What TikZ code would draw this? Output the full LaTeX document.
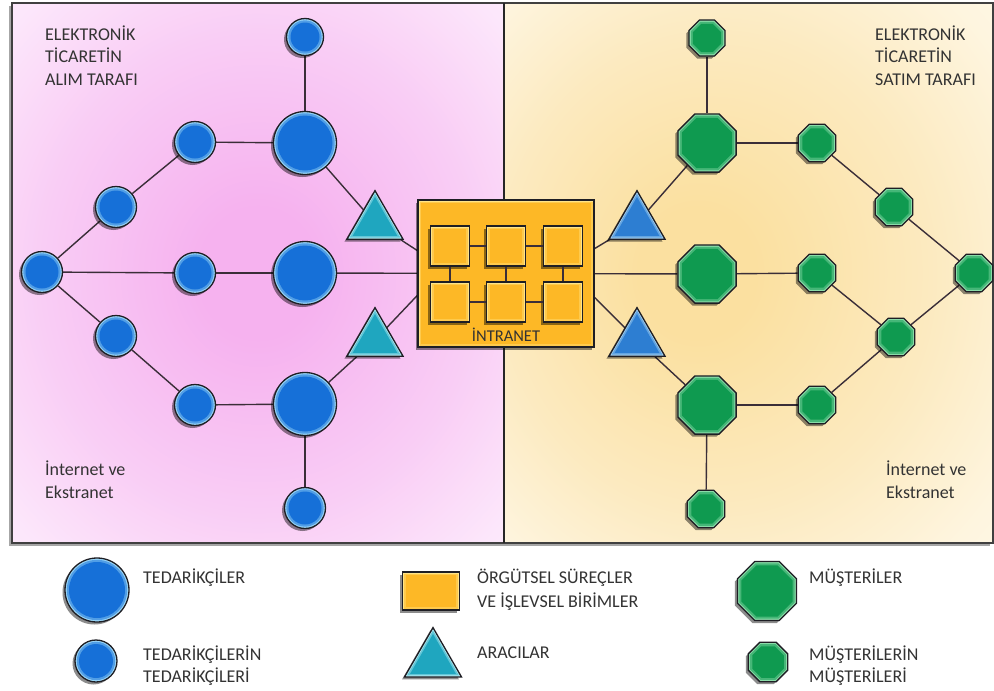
\documentclass[tikz,border=0pt]{standalone}
\usepackage{fontspec}
\setmainfont{Carlito}
\usetikzlibrary{shapes.geometric,shadows}

% palette
\definecolor{bmain}{HTML}{1670D8}
\definecolor{blight}{HTML}{9AD6F7}
\definecolor{tmain}{HTML}{1FA6BF}
\definecolor{tlight}{HTML}{B4ECF4}
\definecolor{rtmain}{HTML}{2D7ED2}
\definecolor{rtlight}{HTML}{A8D4F4}
\definecolor{gmain}{HTML}{0F9A50}
\definecolor{glight}{HTML}{8ADBA8}
\definecolor{ymain}{HTML}{FDB826}
\definecolor{ylight}{HTML}{FFE487}
\definecolor{outl}{HTML}{1E1E24}
\definecolor{linec}{HTML}{3A2E38}
\definecolor{txt}{HTML}{333333}
\definecolor{pinkC}{HTML}{F6B2EF}
\definecolor{pinkM}{HTML}{F9CDF5}
\definecolor{pinkE}{HTML}{FCE7FB}
\definecolor{pinkW}{HTML}{FEF7FE}
\definecolor{creamC}{HTML}{FBE0A0}
\definecolor{creamM}{HTML}{FCEAC0}
\definecolor{creamE}{HTML}{FEF5DF}
\definecolor{creamW}{HTML}{FFFCF4}

% panel backgrounds
\pgfdeclareradialshading{pinkbg}{\pgfpoint{0bp}{0bp}}{color(0bp)=(pinkC); color(6bp)=(pinkC); color(22bp)=(pinkM); color(34bp)=(pinkE); color(50bp)=(pinkW)}
\pgfdeclareradialshading{creambg}{\pgfpoint{-6bp}{0bp}}{color(0bp)=(creamC); color(6bp)=(creamC); color(22bp)=(creamM); color(34bp)=(creamE); color(50bp)=(creamW)}

\pgfdeclarelayer{back}
\pgfdeclarelayer{links}
\pgfsetlayers{back,links,main}

% inner fills used for the soft inner rim of the shapes
\newcommand\glowdisc[2]{%
  \pgfmathsetmacro\discR{#2}%
  \fill[#1] (path picture bounding box.center) circle[radius=\discR pt];}
\newcommand\glowoct[2]{%
  \pgfmathsetmacro\octR{#2}%
  \fill[#1] ([shift={(22.5:\octR pt)}]path picture bounding box.center)
    -- ([shift={(67.5:\octR pt)}]path picture bounding box.center)
    -- ([shift={(112.5:\octR pt)}]path picture bounding box.center)
    -- ([shift={(157.5:\octR pt)}]path picture bounding box.center)
    -- ([shift={(202.5:\octR pt)}]path picture bounding box.center)
    -- ([shift={(247.5:\octR pt)}]path picture bounding box.center)
    -- ([shift={(292.5:\octR pt)}]path picture bounding box.center)
    -- ([shift={(337.5:\octR pt)}]path picture bounding box.center) -- cycle;}

\tikzset{
  shd/.style={drop shadow={shadow xshift=-2.5pt,shadow yshift=-2.5pt,opacity=.45,fill=black}},
  bluedisc/.style={circle, draw=outl, line width=1.3pt, fill=blight, minimum size=#1pt, inner sep=0pt, shd,
    path picture={\glowdisc{bmain!55!blight}{#1/2-1.8}\glowdisc{bmain}{#1/2-4}}},
  supbig/.style={bluedisc=63},
  supsmall/.style={bluedisc=41},
  greenoct/.style={regular polygon, regular polygon sides=8, draw=outl, line width=1.3pt, fill=glight, minimum size=#1pt, inner sep=0pt, shd,
    path picture={\glowoct{gmain!55!glight}{#1/2-2}\glowoct{gmain}{#1/2-4.3}}},
  custbig/.style={greenoct=63},
  custsmall/.style={greenoct=40.5},
  tri/.style n args={3}{regular polygon, regular polygon sides=3, draw=outl, line width=1.3pt, fill=#1, minimum size=64.7pt, inner sep=0pt, shd,
    path picture={
      \fill[#2] ([shift={(2.6pt,1.5pt)}]path picture bounding box.south west) -- ([shift={(-2.6pt,1.5pt)}]path picture bounding box.south east) -- ([shift={(0pt,-3pt)}]path picture bounding box.north) -- cycle;
      \fill[#3] ([shift={(5.6pt,3.2pt)}]path picture bounding box.south west) -- ([shift={(-5.6pt,3.2pt)}]path picture bounding box.south east) -- ([shift={(0pt,-6.4pt)}]path picture bounding box.north) -- cycle;
    }},
  tealtri/.style={tri={tlight}{tmain!55!tlight}{tmain}},
  bluetri/.style={tri={rtlight}{rtmain!55!rtlight}{rtmain}},
  unitbox/.style={rectangle, draw=outl, line width=1.3pt, fill=ylight, inner sep=0pt, shd,
    path picture={
      \fill[ymain!60!ylight] ([shift={(1.5pt,1.5pt)}]path picture bounding box.south west) rectangle ([shift={(-1.5pt,-1.5pt)}]path picture bounding box.north east);
      \fill[ymain] ([shift={(3.4pt,3.4pt)}]path picture bounding box.south west) rectangle ([shift={(-3.4pt,-3.4pt)}]path picture bounding box.north east);
    }},
  sq/.style={unitbox, minimum width=39pt, minimum height=40pt},
  conn/.style={draw=linec, line width=1.4pt},
  lbl/.style={font=\fontsize{18}{22.5}\selectfont, text=txt, align=left, inner sep=0pt, anchor=north west},
  keylbl/.style={lbl, font=\fontsize{18}{21.5}\selectfont},
  frame/.style={draw=black!75, line width=1.8pt}
}

\begin{document}
\begin{tikzpicture}[x=1pt,y=-1pt]
\useasboundingbox (0,0) rectangle (994,691);

% ---------- panels ----------
\begin{pgfonlayer}{back}
  \fill[white] (0,0) rectangle (994,691);
  \fill[black,opacity=.35] (9,6) rectangle (990,546);
  \shade[shading=pinkbg] (12,3) rectangle (504,543);
  \shade[shading=creambg] (504,3) rectangle (993,543);
  \draw[frame] (12,3) rectangle (993,543);
  \draw[frame, line width=2.4pt, black!85] (504,3) -- (504,543);
\end{pgfonlayer}

% ---------- intranet ----------
\node[unitbox, minimum width=176pt, minimum height=147pt, line width=1.5pt] (box) at (506,273.5) {};
\node[sq] (q1) at (450,246) {};
\node[sq] (q2) at (506,246) {};
\node[sq] (q3) at (563,246) {};
\node[sq] (q4) at (450,302) {};
\node[sq] (q5) at (506,302) {};
\node[sq] (q6) at (563,302) {};
\node[font=\fontsize{16.5}{20}\selectfont, text=black!80, inner sep=0pt, anchor=base] (intr) at (506,341) {İNTRANET};

% ---------- buying side ----------
\node[bluedisc=37] (lT) at (305,37) {};
\node[supbig] (bT) at (305,143) {};
\node[supsmall] (s1) at (195,142) {};
\node[supsmall] (s2) at (116,207) {};
\node[supsmall] (s0) at (42,272) {};
\node[supsmall] (sM) at (195,273) {};
\node[supbig] (bM) at (305,273) {};
\node[supsmall] (s3) at (116,336) {};
\node[supsmall] (s4) at (195,405) {};
\node[supbig] (bB) at (305,404) {};
\node[supsmall] (lB) at (305,508) {};
\node[tealtri] (tU) at (375,223) {};
\node[tealtri] (tD) at (375,340) {};

% ---------- selling side ----------
\node[greenoct=39] (rT) at (707,38) {};
\node[custbig] (RT) at (707,143) {};
\node[custsmall] (r1) at (817,143) {};
\node[custsmall] (r2) at (894,207) {};
\node[custsmall] (r0) at (974,273) {};
\node[custsmall] (rM) at (817,273) {};
\node[custbig] (RM) at (707,274) {};
\node[custsmall] (r3) at (896,337) {};
\node[custsmall] (r4) at (817,405) {};
\node[custbig] (RB) at (707,405) {};
\node[custsmall] (rB) at (706,509) {};
\node[bluetri] (uU) at (637,223) {};
\node[bluetri] (uD) at (637,340) {};

% attachment points on the intranet frame
\coordinate (inUL) at ([yshift=23pt]box.west);
\coordinate (inDL) at ([yshift=-22pt]box.west);
\coordinate (inUR) at ([yshift=25pt]box.east);
\coordinate (inDR) at ([yshift=-24pt]box.east);

% ---------- connectors ----------
\begin{pgfonlayer}{links}
  \draw[conn] (lT) -- (bT);
  \draw[conn] (bT) -- (s1);
  \draw[conn] (s1) -- (s2);
  \draw[conn] (s2) -- (s0);
  \draw[conn] (s0) -- (sM);
  \draw[conn] (sM) -- (bM);
  \draw[conn] (bM) -- (box);
  \draw[conn] (s0) -- (s3);
  \draw[conn] (s3) -- (s4);
  \draw[conn] (s4) -- (bB);
  \draw[conn] (bB) -- (lB);
  \draw[conn] (bT) -- (tU.center);
  \draw[conn] (tU.center) -- (inUL);
  \draw[conn] (tD.center) -- (inDL);
  \draw[conn] (tD.center) -- (bB);

  \draw[conn] (rT) -- (RT);
  \draw[conn] (RT) -- (r1);
  \draw[conn] (r1) -- (r2);
  \draw[conn] (r2) -- (r0);
  \draw[conn] (RT) -- (uU.center);
  \draw[conn] (uU.center) -- (inUR);
  \draw[conn] (box) -- (RM);
  \draw[conn] (RM) -- (rM);
  \draw[conn] (rM) -- (r3);
  \draw[conn] (r0) -- (r3);
  \draw[conn] (uD.center) -- (inDR);
  \draw[conn] (uD.center) -- (RB);
  \draw[conn] (RB) -- (r4);
  \draw[conn] (r4) -- (r3);
  \draw[conn] (RB) -- (rB);
\end{pgfonlayer}
\draw[conn, line width=1.2pt] (q1) -- (q2);
\draw[conn, line width=1.2pt] (q2) -- (q3);
\draw[conn, line width=1.2pt] (q4) -- (q5);
\draw[conn, line width=1.2pt] (q5) -- (q6);
\draw[conn, line width=1.2pt] (q1) -- (q4);
\draw[conn, line width=1.2pt] (q2) -- (q5);
\draw[conn, line width=1.2pt] (q3) -- (q6);

% ---------- panel captions ----------
\node[lbl] (capL) at (45,25.5) {ELEKTRONİK\\TİCARETİN\\ALIM TARAFI};
\node[lbl] (capR) at (875,25.5) {ELEKTRONİK\\TİCARETİN\\SATIM TARAFI};
\node[lbl] (netL) at (45,461) {İnternet ve\\Ekstranet};
\node[lbl] (netR) at (886,461) {İnternet ve\\Ekstranet};

% ---------- legend ----------
\node[bluedisc=64] (kSup) at (97,590) {};
\node[bluedisc=42] (kSup2) at (96,661) {};
\node[unitbox, minimum width=57pt, minimum height=38pt] (kUnit) at (431,591) {};
\node[tealtri, minimum size=65.8pt] (kInt) at (433,660.5) {};
\node[greenoct=63.9] (kCus) at (767,591) {};
\node[greenoct=42.7] (kCus2) at (768,662) {};

\node[keylbl] (tSup) at (143,569) {TEDARİKÇİLER};
\node[keylbl] (tSup2) at (143,646) {TEDARİKÇİLERİN\\TEDARİKÇİLERİ};
\node[keylbl, font=\fontsize{18}{23.5}\selectfont] (tUnit) at (477,569) {ÖRGÜTSEL SÜREÇLER\\VE İŞLEVSEL BİRİMLER};
\node[keylbl] (tInt) at (477,647) {ARACILAR};
\node[keylbl] (tCus) at (809,569) {MÜŞTERİLER};
\node[keylbl] (tCus2) at (809,646) {MÜŞTERİLERİN\\MÜŞTERİLERİ};
\end{tikzpicture}
\end{document}
